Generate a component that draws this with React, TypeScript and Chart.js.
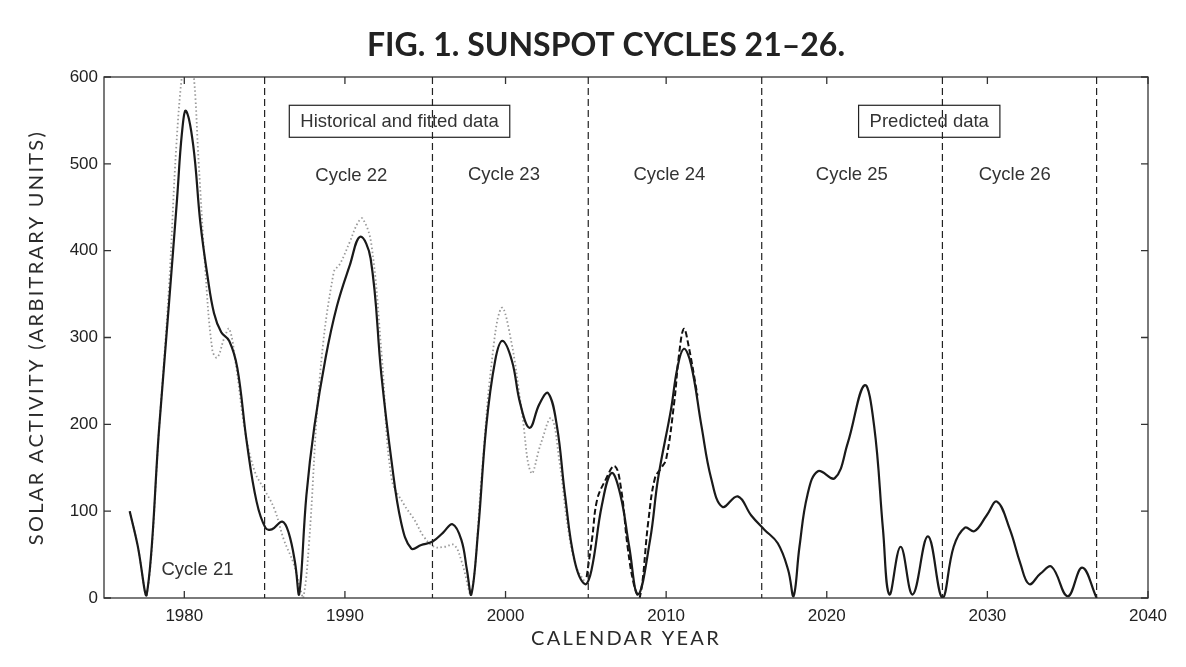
import React, { useEffect, useRef } from "react";
import Chart from "chart.js/auto";

// fitted curve (solid)
const fitYears = [
  1976.6, 1977.1, 1977.65, 1978.45, 1979.05, 1979.55, 1979.85, 1980.1, 1980.55, 1981.0,
  1981.45, 1981.85, 1982.3, 1982.8, 1983.3, 1983.9, 1984.5, 1985.05, 1985.45, 1986.1,
  1986.5, 1986.9, 1987.15, 1987.6, 1988.1, 1988.8, 1989.5, 1990.3, 1990.95, 1991.6,
  1992.27, 1992.9, 1993.5, 1994.13, 1994.75, 1995.46, 1996.1, 1996.7, 1997.25, 1997.6,
  1997.87, 1998.3, 1998.8, 1999.35, 1999.8, 2000.4, 2000.9, 2001.5, 2002.1, 2002.65,
  2003.2, 2003.7, 2004.3, 2004.95, 2005.35, 2006.0, 2006.6, 2007.15, 2007.7, 2008.25,
  2009.0, 2009.5, 2010.3, 2010.7, 2011.1, 2011.55, 2012.2, 2012.8, 2013.5, 2014.46,
  2015.3, 2016.1, 2016.95, 2017.6, 2017.93, 2018.3, 2018.8, 2019.45, 2020.5, 2021.3,
  2022.35, 2022.95, 2023.5, 2023.9, 2024.6, 2025.35, 2026.3, 2027.2, 2027.9, 2028.6,
  2029.2, 2029.95, 2030.6, 2031.4, 2032.05, 2032.6, 2033.3, 2034.0, 2035.0, 2035.9,
  2036.8,
];
const fitValues = [
  100, 60, 3, 200, 340, 460, 535, 561, 522, 432,
  370, 328, 306, 296, 265, 178, 111, 81, 79, 88,
  75, 40, 4, 118, 198, 277, 336, 383, 416, 391,
  257, 158, 87, 57, 61, 65, 75, 85, 67, 32,
  4, 79, 198, 273, 296, 273, 225, 196, 223, 236,
  198, 119, 43, 16, 32, 107, 144, 119, 59, 4,
  67, 138, 217, 265, 287, 269, 198, 138, 105, 117,
  95, 79, 63, 32, 2, 59, 119, 146, 138, 178,
  245, 198, 79, 4, 59, 4, 71, 0, 59, 81,
  77, 95, 111, 79, 40, 16, 28, 36, 2, 35,
  0,
];

// historical data (grey dotted)
const histYears = [
  1976.6, 1977.1, 1977.65, 1978.45, 1979.05, 1979.5, 1979.9, 1980.2, 1980.55, 1980.9,
  1981.3, 1981.75, 1982.05, 1982.5, 1982.8, 1983.2, 1983.8, 1984.4, 1984.95, 1985.6,
  1986.2, 1986.8, 1987.2, 1987.4, 1987.75, 1988.45, 1989.3, 1989.7, 1990.3, 1990.8,
  1991.1, 1991.65, 1992.3, 1992.9, 1993.7, 1994.3, 1994.9, 1995.55, 1996.2, 1996.8,
  1997.3, 1997.85, 1998.5, 1999.1, 1999.75, 2000.35, 2001.0, 2001.6, 2002.2, 2002.85,
  2003.35, 2003.9, 2004.4, 2004.95,
];
const histValues = [
  100, 60, 2, 200, 360, 520, 610, 640, 610, 500,
  380, 285, 277, 300, 310, 270, 190, 145, 126, 103,
  67, 40, 12, 0, 59, 257, 375, 385, 410, 432,
  437, 407, 277, 138, 107, 91, 71, 59, 59, 61,
  40, 4, 138, 265, 334, 296, 217, 144, 178, 207,
  158, 79, 36, 18,
];

// cycle 24 observations (black dashed)
const obsYears = [
  2005.05, 2005.4, 2005.7, 2006.2, 2006.8, 2007.2, 2007.6, 2008.0, 2008.35, 2008.9,
  2009.3, 2009.7, 2010.0, 2010.5, 2010.8, 2011.1, 2011.4, 2011.95,
];
const obsValues = [
  24, 70, 113, 135, 152, 125, 59, 15, 0, 90,
  138, 150, 160, 225, 280, 310, 290, 233,
];

const cycleBounds = [1985.0, 1995.45, 2005.15, 2015.95, 2027.2, 2036.8];
const xTicks = [1980, 1990, 2000, 2010, 2020, 2030, 2040];
const yTicks = [0, 100, 200, 300, 400, 500, 600];

const cycleNames = ["Cycle 21", "Cycle 22", "Cycle 23", "Cycle 24", "Cycle 25", "Cycle 26"];
const cycleLabelYears = [1980.82, 1990.4, 1999.9, 2010.2, 2021.56, 2031.7];
const cycleLabelValues = [32, 486, 487, 487, 487, 487];

const boxTexts = ["Historical and fitted data", "Predicted data"];
const boxYears = [1993.4, 2026.38];
const boxValues = [549, 549];

const TICK_FONT = '"Liberation Sans", Arial, sans-serif';

const overlay = {
  id: "overlay",
  afterDatasetsDraw(chart: any) {
    const { ctx, chartArea: a, scales } = chart;
    const x = scales.x;
    const y = scales.y;
    ctx.save();

    // frame
    ctx.strokeStyle = "#333";
    ctx.lineWidth = 1.3;
    ctx.setLineDash([]);
    ctx.strokeRect(a.left, a.top, a.right - a.left, a.bottom - a.top);

    // inward ticks on all four sides
    ctx.beginPath();
    xTicks.forEach((v) => {
      const px = x.getPixelForValue(v);
      ctx.moveTo(px, a.bottom);
      ctx.lineTo(px, a.bottom - 7);
      ctx.moveTo(px, a.top);
      ctx.lineTo(px, a.top + 7);
    });
    yTicks.forEach((v) => {
      const py = y.getPixelForValue(v);
      ctx.moveTo(a.left, py);
      ctx.lineTo(a.left + 7, py);
      ctx.moveTo(a.right, py);
      ctx.lineTo(a.right - 7, py);
    });
    ctx.stroke();

    // cycle labels
    ctx.fillStyle = "#333";
    ctx.font = `18.5px ${TICK_FONT}`;
    ctx.textAlign = "center";
    ctx.textBaseline = "middle";
    cycleNames.forEach((t, i) => {
      ctx.fillText(t, x.getPixelForValue(cycleLabelYears[i]), y.getPixelForValue(cycleLabelValues[i]));
    });

    // boxed notes
    boxTexts.forEach((t, i) => {
      const cx = x.getPixelForValue(boxYears[i]);
      const cy = y.getPixelForValue(boxValues[i]);
      const w = ctx.measureText(t).width + 22;
      const h = 32;
      ctx.fillStyle = "#fff";
      ctx.fillRect(cx - w / 2, cy - h / 2, w, h);
      ctx.strokeStyle = "#222";
      ctx.lineWidth = 1.2;
      ctx.strokeRect(cx - w / 2, cy - h / 2, w, h);
      ctx.fillStyle = "#333";
      ctx.fillText(t, cx, cy + 1);
    });

    // dashed cycle boundaries, drawn over the boxes
    ctx.strokeStyle = "#222";
    ctx.lineWidth = 1.2;
    ctx.setLineDash([7, 4]);
    ctx.beginPath();
    cycleBounds.forEach((v) => {
      const px = x.getPixelForValue(v);
      ctx.moveTo(px, a.top);
      ctx.lineTo(px, a.bottom);
    });
    ctx.stroke();
    ctx.setLineDash([]);

    // titles
    ctx.fillStyle = "#222";
    ctx.font = 'bold 32px Lato, "Open Sans", sans-serif';
    ctx.textAlign = "center";
    ctx.textBaseline = "middle";
    ctx.fillText("FIG. 1. SUNSPOT CYCLES 21\u201326.", 606, 46);

    ctx.fillStyle = "#2a2a2a";
    ctx.font = '20px Lato, "Open Sans", sans-serif';
    (ctx as any).letterSpacing = "2.3px";
    ctx.fillText("CALENDAR YEAR", (a.left + a.right) / 2, a.bottom + 41);
    ctx.translate(37, (a.top + a.bottom) / 2);
    ctx.rotate(-Math.PI / 2);
    ctx.fillText("SOLAR ACTIVITY (ARBITRARY UNITS)", 0, 0);
    ctx.restore();
  },
};

const App = () => {
  const canvasRef = useRef<HTMLCanvasElement>(null);

  useEffect(() => {
    if (!canvasRef.current) return;
    const toPoints = (xs: number[], ys: number[]) => xs.map((v, i) => ({ x: v, y: ys[i] }));

    const chart = new Chart(canvasRef.current, {
      type: "line",
      data: {
        datasets: [
          {
            label: "Fitted",
            data: toPoints(fitYears, fitValues),
            borderColor: "#1a1a1a",
            borderWidth: 2.2,
            tension: 0.4,
            pointRadius: 0,
          },
          {
            label: "Cycle 24 data",
            data: toPoints(obsYears, obsValues),
            borderColor: "#111",
            borderWidth: 2,
            borderDash: [6, 3],
            tension: 0.4,
            pointRadius: 0,
          },
          {
            label: "Historical",
            data: toPoints(histYears, histValues),
            borderColor: "#999",
            borderWidth: 1.8,
            borderDash: [1.5, 2.5],
            tension: 0.4,
            pointRadius: 0,
          },
        ],
      },
      options: {
        animation: false,
        responsive: true,
        maintainAspectRatio: false,
        parsing: false,
        layout: { padding: { top: 77, left: 0, right: 38, bottom: 0 } },
        plugins: {
          legend: { display: false },
          tooltip: { enabled: false },
          title: { display: false },
        },
        scales: {
          x: {
            type: "linear",
            min: 1975,
            max: 2040,
            grid: { display: false, drawTicks: false },
            border: { display: false },
            afterBuildTicks: (s: any) => {
              s.ticks = xTicks.map((v) => ({ value: v }));
            },
            afterFit: (s: any) => {
              s.height = 69;
            },
            ticks: {
              autoSkip: false,
              maxRotation: 0,
              padding: 8,
              color: "#222",
              font: { family: TICK_FONT, size: 17 },
              callback: (v: any) => String(v),
            },
          },
          y: {
            min: 0,
            max: 600,
            grid: { display: false, drawTicks: false },
            border: { display: false },
            afterBuildTicks: (s: any) => {
              s.ticks = yTicks.map((v) => ({ value: v }));
            },
            afterFit: (s: any) => {
              s.width = 104;
            },
            ticks: {
              padding: 6,
              color: "#222",
              font: { family: TICK_FONT, size: 17 },
              callback: (v: any) => String(v),
            },
          },
        },
      },
      plugins: [overlay],
    });

    return () => {
      chart.destroy();
    };
  }, []);

  return (
    <div style={{ position: "absolute", left: 0, top: 0, width: "1186px", height: "667px", background: "#fff" }}>
      <canvas ref={canvasRef}></canvas>
    </div>
  );
};

export default App;
